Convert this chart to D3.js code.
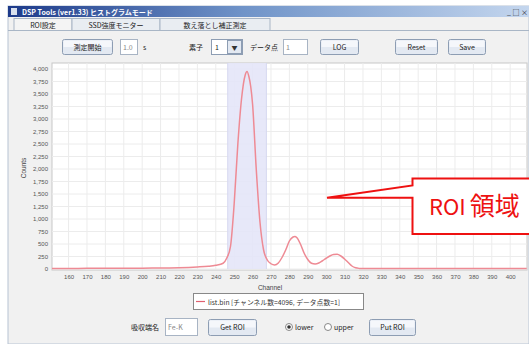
<!DOCTYPE html>
<html><head><meta charset="utf-8">
<script src="https://cdn.jsdelivr.net/npm/d3@7"></script>
<style>
html,body{margin:0;padding:0;background:#fff;}
svg{display:block;font-family:"Noto Sans CJK JP","Noto Sans",sans-serif;}
</style></head>
<body>
<svg id="c" width="529" height="344"></svg>
<script>
// ---- data ----
const channels = [151,160,170,180,190,200,210,220,230,236,240,244,246,248,250,252,254,256,257,258,259,260,262,264,266,268,270,272,274,276,278,280,282,283,284,286,288,290,292,294,296,298,300,302,304,306,308,310,312,314,316,318,320,330,340,350,360,370,380,390,400,409];
const counts   = [12,12,13,14,15,17,20,25,40,55,75,115,220,450,1300,2500,3400,3880,3950,3850,3650,3300,2000,950,380,180,105,80,120,230,380,560,640,650,630,500,320,190,115,100,120,165,215,260,290,295,260,200,130,60,25,12,8,8,8,8,8,8,8,8,8,8];
const xTicks = [160,170,180,190,200,210,220,230,240,250,260,270,280,290,300,310,320,330,340,350,360,370,380,390,400];
const yTicks = [0,250,500,750,1000,1250,1500,1750,2000,2250,2500,2750,3000,3250,3500,3750,4000];
const roi = [246.5, 267.5];
const tabs = ["ROI設定","SSD強度モニター","数え落とし補正測定"];
const seriesName = "list.bin [チャンネル数=4096, データ点数=1]";

const svg = d3.select("#c");
// window background
svg.append("rect").attr("x",0).attr("y",0).attr("width",529).attr("height",344).attr("fill","#ffffff");
svg.append("rect").attr("x",8).attr("y",6).attr("width",521).attr("height",338).attr("fill","#f1f1f1").attr("stroke","#b8c4d4");
// title bar
const grad = svg.append("defs").append("linearGradient").attr("id","tb");
grad.append("stop").attr("offset","0").attr("stop-color","#1d3a8a");
grad.append("stop").attr("offset","0.45").attr("stop-color","#6f93c8");
grad.append("stop").attr("offset","1").attr("stop-color","#c4d6ee");
svg.append("rect").attr("x",8).attr("y",6).attr("width",521).attr("height",11).attr("fill","url(#tb)");
svg.append("text").attr("x",22).attr("y",14.5).attr("fill","#fff").attr("font-size",7).attr("font-weight","bold").text("DSP Tools (ver1.33)  ヒストグラムモード");
svg.append("rect").attr("x",11).attr("y",8).attr("width",6).attr("height",7).attr("fill","#d8e0ee");
svg.append("text").attr("x",507).attr("y",14.5).attr("fill","#222").attr("font-size",7).text("_ □ ×");

// tabs
const tabX = [14,72,160,270];
svg.append("line").attr("x1",8).attr("x2",529).attr("y1",30.5).attr("y2",30.5).attr("stroke","#a9b6c6");
tabs.forEach((t,i)=>{
  svg.append("rect").attr("x",tabX[i]).attr("y",18.5).attr("width",tabX[i+1]-tabX[i]).attr("height",12)
    .attr("fill", i===0?"#f4f4f4":"#e9edf2").attr("stroke","#a9b6c6");
  svg.append("text").attr("x",(tabX[i]+tabX[i+1])/2).attr("y",27.5).attr("text-anchor","middle").attr("font-size",7).attr("fill","#222").text(t);
});

function button(x,y,w,h,label){
  const g = svg.append("g");
  g.append("rect").attr("x",x+0.5).attr("y",y+0.5).attr("width",w).attr("height",h).attr("rx",2)
    .attr("fill","#e3e9f2").attr("stroke","#8d9db3");
  g.append("rect").attr("x",x+1.5).attr("y",y+1.5).attr("width",w-2).attr("height",h/2-1).attr("fill","#f5f7fb");
  g.append("text").attr("x",x+w/2+0.5).attr("y",y+h/2+3).attr("text-anchor","middle").attr("font-size",7).attr("fill","#222").text(label);
}
function input(x,y,w,h,val){
  svg.append("rect").attr("x",x+0.5).attr("y",y+0.5).attr("width",w).attr("height",h).attr("fill","#fff").attr("stroke","#a8b4c4");
  svg.append("text").attr("x",x+3).attr("y",y+h/2+3).attr("font-size",7).attr("fill","#888").text(val);
}
function label(x,y,t){ svg.append("text").attr("x",x).attr("y",y).attr("font-size",7).attr("fill","#222").text(t); }

// control row
button(62,39,50,15,"測定開始");
input(120,39,17,15,"1.0");
label(143,50,"s");
label(189,50,"素子");
svg.append("rect").attr("x",211.5).attr("y",39.5).attr("width",31).attr("height",15).attr("fill","#fff").attr("stroke","#8d9db3");
label(215,50,"1");
svg.append("rect").attr("x",227.5).attr("y",40.5).attr("width",14).attr("height",13).attr("fill","#e3e9f2").attr("stroke","#8d9db3");
svg.append("text").attr("x",234.5).attr("y",50).attr("text-anchor","middle").attr("font-size",6).attr("fill","#333").text("▼");
label(250,50,"データ点");
input(283,39,24,15,"1");
button(320,39,38,15,"LOG");
button(395,39,42,15,"Reset");
button(448,39,37,15,"Save");

// plot
const L=52, R=527, T=63, B=269;
const x = d3.scaleLinear().domain([151, 151+(R-L)/1.84]).range([L,R]);
const y = d3.scaleLinear().domain([0,4000]).range([B,69]);
svg.append("rect").attr("x",L).attr("y",T).attr("width",R-L).attr("height",B-T+1).attr("fill","#fff").attr("stroke","#c8c8c8");
// grid
svg.append("g").selectAll("line").data(xTicks).join("line")
  .attr("x1",d=>x(d)).attr("x2",d=>x(d)).attr("y1",T).attr("y2",B).attr("stroke","#ececec");
svg.append("g").selectAll("line").data(yTicks).join("line")
  .attr("x1",L).attr("x2",R).attr("y1",d=>y(d)).attr("y2",d=>y(d)).attr("stroke","#ececec");
// ROI band
svg.append("rect").attr("x",x(roi[0])).attr("y",T).attr("width",x(roi[1])-x(roi[0])).attr("height",B-T)
  .attr("fill","#e4e6f8").attr("opacity",0.9);
svg.append("line").attr("x1",x(roi[0])).attr("x2",x(roi[0])).attr("y1",T).attr("y2",B).attr("stroke","#d6d8f0");
svg.append("line").attr("x1",x(roi[1])).attr("x2",x(roi[1])).attr("y1",T).attr("y2",B).attr("stroke","#d6d8f0");

// axes
const xa = svg.append("g").attr("transform",`translate(0,${B})`)
  .call(d3.axisBottom(x).tickValues(xTicks).tickSize(0).tickPadding(6));
xa.select(".domain").remove();
xa.selectAll("text").attr("font-size",6).attr("fill","#555").attr("font-family","Arial, sans-serif");
const ya = svg.append("g").attr("transform",`translate(${L},0)`)
  .call(d3.axisLeft(y).tickValues(yTicks).tickSize(0).tickPadding(4).tickFormat(d3.format(",")));
ya.select(".domain").remove();
ya.selectAll("text").attr("font-size",6).attr("fill","#555").attr("font-family","Arial, sans-serif");
svg.append("text").attr("transform","translate(26,168) rotate(-90)").attr("text-anchor","middle")
  .attr("font-size",6.5).attr("fill","#444").attr("font-family","Arial, sans-serif").text("Counts");
svg.append("text").attr("x",270).attr("y",290).attr("text-anchor","middle")
  .attr("font-size",6.5).attr("fill","#444").attr("font-family","Arial, sans-serif").text("Channel");

// data line
const line = d3.line().x((d,i)=>x(channels[i])).y(d=>y(d)).curve(d3.curveMonotoneX);
svg.append("path").datum(counts).attr("d",line).attr("fill","none").attr("stroke","#ee8a94").attr("stroke-width",1.5);

// legend
svg.append("rect").attr("x",193.5).attr("y",293.5).attr("width",170).attr("height",16).attr("fill","#fff").attr("stroke","#888");
svg.append("line").attr("x1",196).attr("x2",205).attr("y1",301.5).attr("y2",301.5).attr("stroke","#e06070").attr("stroke-width",1.2);
svg.append("text").attr("x",208).attr("y",304.5).attr("font-size",6.8).attr("fill","#333").text(seriesName);

// bottom row
label(131,330,"吸収端名");
input(165,318,32,17,"Fe-K");
button(208,319,48,16,"Get ROI");
svg.append("circle").attr("cx",289).attr("cy",327).attr("r",3.5).attr("fill","#fff").attr("stroke","#888");
svg.append("circle").attr("cx",289).attr("cy",327).attr("r",1.8).attr("fill","#333");
label(295,330,"lower");
svg.append("circle").attr("cx",328).attr("cy",327).attr("r",3.5).attr("fill","#fff").attr("stroke","#888");
label(334,330,"upper");
button(369,319,46,16,"Put ROI");

// callout annotation
const co = svg.append("g");
co.append("path").attr("d","M529,178.5 L412.5,178.5 L412.5,185.5 L327,197.8 L412.5,197.8 L412.5,234 L529,234")
  .attr("fill","#fff").attr("stroke","#ee1111").attr("stroke-width",2).attr("stroke-linejoin","miter");
const ct = co.append("text").attr("x",429).attr("y",215).attr("font-size",22).attr("fill","#ee1111")
  .attr("font-family","Noto Sans CJK JP, sans-serif");
ct.append("tspan").text("ROI");
ct.append("tspan").attr("dx",4).attr("font-size",25).text("領域");
</script>
</body></html>
